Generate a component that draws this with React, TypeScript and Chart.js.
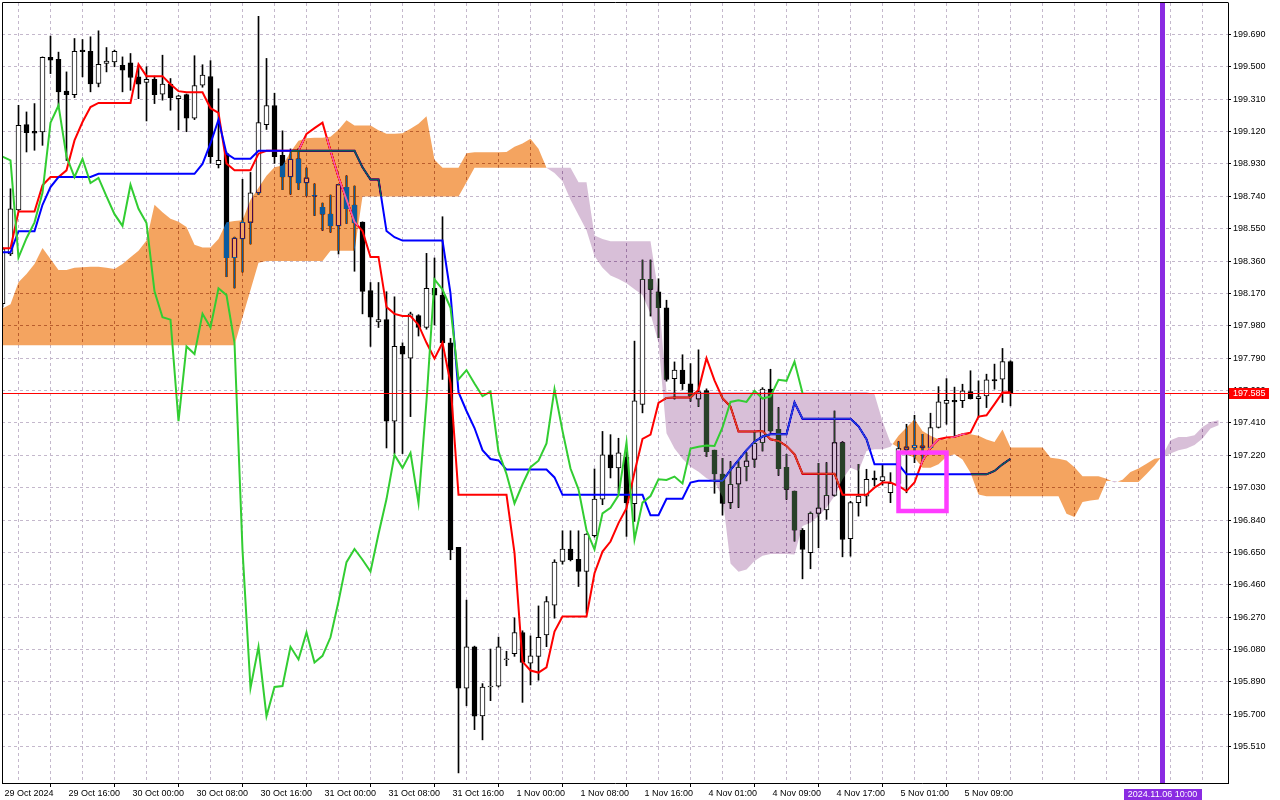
import React, { useEffect, useRef } from 'react';
import { Chart, registerables } from 'chart.js';

Chart.register(...registerables);

// ---- candles (hourly bars, index 0 = 29 Oct 08:00) ----
const opens = [
  198.11, 198.402, 198.66, 199.161, 199.121, 199.117, 199.555, 199.543, 199.357, 199.337,
  199.598, 199.59, 199.402, 199.519, 199.529, 199.509, 199.523, 199.441, 199.408, 199.427,
  199.339, 199.398, 199.313, 199.337, 199.198, 199.392, 199.443, 198.925, 198.99, 198.38,
  198.49, 198.587, 198.76, 199.16, 199.273, 198.98, 198.853, 198.96, 198.818, 198.745,
  198.675, 198.635, 198.566, 198.792, 198.688, 198.588, 198.187, 198.003, 198.016, 197.42,
  197.859, 197.79, 198.04, 197.97, 198.2, 198.16, 197.88, 196.68, 195.854, 196.096,
  195.69, 195.86, 195.865, 196.02, 196.056, 196.18, 196.0, 196.04, 196.166, 196.34,
  196.597, 196.67, 196.61, 196.538, 196.748, 196.963, 197.222, 197.146, 197.21, 196.936,
  197.518, 198.252, 198.18, 198.086, 197.67, 197.72, 197.64, 197.549, 197.6, 197.25,
  197.11, 196.94, 197.05, 197.153, 197.196, 197.294, 197.608, 197.373, 197.15, 197.01,
  196.78, 196.648, 196.879, 196.9, 196.985, 197.294, 196.73, 196.942, 196.98, 197.086,
  197.07, 197.0, 197.055, 197.255, 197.265, 197.263, 197.265, 197.383, 197.524, 197.543,
  197.54, 197.594, 197.553, 197.568, 197.665, 197.667, 197.77,
];
const highs = [
  198.44, 198.784, 199.274, 199.235, 199.284, 199.558, 199.68, 199.586, 199.47, 199.666,
  199.66, 199.676, 199.711, 199.613, 199.598, 199.558, 199.578, 199.509, 199.5, 199.445,
  199.568, 199.431, 199.333, 199.34, 199.565, 199.512, 199.536, 199.371, 199.0, 198.5,
  198.84, 198.88, 199.796, 199.549, 199.345, 199.124, 199.018, 199.02, 198.906, 198.813,
  198.7, 198.747, 198.81, 198.86, 198.8, 198.59, 198.234, 198.234, 198.18, 198.15,
  197.88, 198.06, 198.045, 198.405, 198.378, 198.62, 197.906, 196.68, 196.37, 196.1,
  195.88, 196.083, 196.153, 196.07, 196.266, 196.19, 196.16, 196.336, 196.391, 196.607,
  196.777, 196.777, 196.777, 196.76, 197.14, 197.36, 197.341, 197.32, 197.253, 197.89,
  198.366, 198.366, 198.256, 198.13, 197.768, 197.81, 197.758, 197.839, 197.61, 197.25,
  197.202, 197.183, 197.183, 197.235, 197.359, 197.617, 197.725, 197.5, 197.226, 197.01,
  196.79, 196.887, 197.173, 197.177, 197.48, 197.3, 196.95, 197.167, 197.138, 197.128,
  197.161, 197.118, 197.3, 197.402, 197.455, 197.343, 197.467, 197.623, 197.67, 197.62,
  197.637, 197.716, 197.657, 197.696, 197.755, 197.847, 197.775,
];
const lows = [
  198.09, 198.392, 198.655, 199.0, 199.01, 199.039, 199.46, 199.264, 198.95, 199.319,
  199.441, 199.353, 199.382, 199.47, 199.5, 199.353, 199.362, 199.313, 199.182, 199.284,
  199.304, 199.245, 199.13, 199.119, 199.19, 199.38, 198.933, 198.906, 198.268, 198.202,
  198.295, 198.46, 198.75, 199.132, 198.933, 198.779, 198.752, 198.78, 198.741, 198.627,
  198.54, 198.529, 198.401, 198.58, 198.3, 198.05, 197.859, 197.97, 197.263, 197.229,
  197.23, 197.447, 197.92, 197.96, 197.985, 197.665, 196.607, 195.356, 195.75, 195.61,
  195.55, 195.78, 195.86, 195.985, 196.04, 195.77, 195.872, 195.9, 196.097, 196.264,
  196.581, 196.6, 196.45, 196.293, 196.74, 196.93, 197.087, 197.0, 196.744, 196.832,
  197.469, 198.037, 197.91, 197.655, 197.55, 197.606, 197.537, 197.506, 197.212, 196.997,
  196.869, 196.908, 196.914, 197.07, 197.15, 197.245, 197.355, 197.102, 196.961, 196.716,
  196.495, 196.554, 196.677, 196.844, 196.98, 196.624, 196.628, 196.863, 196.922, 197.04,
  197.045, 196.942, 196.97, 197.0, 197.177, 197.187, 197.26, 197.38, 197.402, 197.334,
  197.5, 197.55, 197.441, 197.5, 197.608, 197.53, 197.51,
];
const closes = [
  198.431, 198.666, 199.157, 199.113, 199.111, 199.555, 199.539, 199.353, 199.337, 199.59,
  199.588, 199.4, 199.515, 199.533, 199.59, 199.48, 199.437, 199.398, 199.427, 199.337,
  199.398, 199.319, 199.33, 199.198, 199.39, 199.451, 198.973, 198.951, 198.38, 198.494,
  198.587, 198.76, 199.172, 199.273, 198.973, 198.853, 198.959, 198.818, 198.848, 198.74,
  198.635, 198.566, 198.808, 198.667, 198.583, 198.182, 198.03, 198.016, 197.42, 197.859,
  197.814, 198.05, 197.97, 198.2, 198.16, 197.88, 196.665, 195.854, 196.096, 195.689,
  195.86, 195.866, 196.096, 196.022, 196.18, 196.004, 196.043, 196.152, 196.362, 196.593,
  196.67, 196.607, 196.538, 196.758, 196.963, 197.222, 197.146, 197.234, 196.94, 197.54,
  198.252, 198.193, 198.086, 197.665, 197.72, 197.641, 197.567, 197.594, 197.241, 197.11,
  196.938, 197.05, 197.15, 197.188, 197.29, 197.608, 197.363, 197.142, 197.02, 196.78,
  196.667, 196.879, 196.912, 196.985, 197.294, 196.726, 196.942, 196.981, 197.079, 197.075,
  197.095, 197.055, 197.26, 197.27, 197.278, 197.275, 197.383, 197.533, 197.543, 197.533,
  197.598, 197.553, 197.565, 197.663, 197.657, 197.77, 197.585,
];

// ---- Ichimoku lines ----
const tenkan = [
  198.435, 198.435, 198.651, 198.651, 198.651, 198.804, 198.853, 198.853, 198.892, 199.068,
  199.176, 199.264, 199.288, 199.288, 199.288, 199.288, 199.288, 199.515, 199.445, 199.445,
  199.445, 199.398, 199.357, 199.35, 199.35, 199.35, 199.257, 199.23, 198.933, 198.893,
  198.893, 198.893, 198.99, 199.007, 199.007, 199.007, 199.007, 199.007, 199.106, 199.14,
  199.172, 199.007, 198.853, 198.72, 198.59, 198.536, 198.384, 198.384, 198.09, 198.05,
  198.037, 198.037, 197.985, 197.88, 197.788, 197.88, 197.644, 196.988, 196.988, 196.988,
  196.988, 196.988, 196.988, 196.988, 196.647, 196.009, 195.957, 195.945, 195.976, 196.186,
  196.274, 196.274, 196.274, 196.274, 196.528, 196.655, 196.714, 196.822, 196.91, 197.12,
  197.316, 197.341, 197.527, 197.557, 197.559, 197.559, 197.559, 197.604, 197.79, 197.66,
  197.555, 197.506, 197.359, 197.359, 197.359, 197.363, 197.314, 197.304, 197.275, 197.226,
  197.112, 197.112, 197.112, 197.112, 197.112, 196.989, 196.989, 196.989, 196.989, 197.03,
  197.06, 197.06, 197.04, 197.01, 197.06, 197.187, 197.265, 197.314, 197.324, 197.328,
  197.343, 197.353, 197.447, 197.455, 197.52, 197.588, 197.59,
];
const kijun = [
  198.411, 198.411, 198.535, 198.535, 198.535, 198.69, 198.794, 198.853, 198.853, 198.853,
  198.853, 198.853, 198.872, 198.872, 198.872, 198.872, 198.872, 198.872, 198.872, 198.872,
  198.872, 198.872, 198.872, 198.872, 198.872, 198.93, 199.05, 199.19, 198.99, 198.96,
  198.96, 198.96, 199.007, 199.007, 199.007, 199.007, 199.007, 199.007, 199.007, 199.007,
  199.007, 199.007, 199.007, 199.007, 199.007, 198.91, 198.838, 198.838, 198.536, 198.5,
  198.48, 198.48, 198.48, 198.48, 198.48, 198.48, 198.17, 197.59, 197.48, 197.38,
  197.25, 197.198, 197.19, 197.136, 197.136, 197.136, 197.136, 197.136, 197.136, 197.09,
  196.988, 196.988, 196.988, 196.988, 196.988, 196.988, 196.988, 196.988, 196.988, 196.988,
  196.988, 196.868, 196.868, 196.965, 196.965, 196.965, 197.06, 197.07, 197.07, 197.07,
  197.07, 197.134, 197.192, 197.25, 197.3, 197.33, 197.343, 197.343, 197.343, 197.53,
  197.435, 197.435, 197.435, 197.435, 197.435, 197.435, 197.435, 197.39, 197.314, 197.167,
  197.167, 197.167, 197.167, 197.108, 197.108, 197.108, 197.108, 197.108, 197.108, 197.108,
  197.108, 197.108, 197.108, 197.108, 197.128, 197.167, 197.2,
];
const senkouA = [
  198.082, 198.107, 198.235, 198.284, 198.343, 198.437, 198.372, 198.308, 198.308, 198.32,
  198.323, 198.327, 198.327, 198.32, 198.313, 198.343, 198.382, 198.421, 198.48, 198.69,
  198.647, 198.608, 198.59, 198.56, 198.455, 198.44, 198.44, 198.49, 198.587, 198.595,
  198.6, 198.72, 198.79, 198.86, 198.91, 198.92, 199.0, 199.066, 199.08, 199.084,
  199.084, 199.09, 199.13, 199.186, 199.156, 199.156, 199.156, 199.127, 199.107, 199.107,
  199.11, 199.136, 199.166, 199.209, 198.954, 198.907, 198.907, 198.907, 198.993, 198.999,
  198.999, 198.999, 198.999, 199.0, 199.03, 199.05, 199.078, 199.019, 198.907, 198.877,
  198.828, 198.72, 198.63, 198.54, 198.39, 198.32, 198.275, 198.255, 198.23, 198.195,
  198.16, 198.05, 197.88, 197.35, 197.26, 197.2, 197.153, 197.124, 197.085, 197.065,
  196.977, 196.585, 196.536, 196.55, 196.6, 196.63, 196.64, 196.64, 196.64, 196.638,
  196.805, 196.824, 196.863, 196.912, 196.981, 197.079, 197.147, 197.128, 197.245, 197.255,
  197.255, 197.27, 197.334, 197.383, 197.432, 197.363, 197.334, 197.314, 197.314, 197.334,
  197.35, 197.343, 197.334, 197.312, 197.298, 197.371, 197.265, 197.265, 197.265, 197.265,
  197.265, 197.206, 197.2, 197.19, 197.15, 197.097, 197.097, 197.097, 197.083, 197.06,
  197.077, 197.122, 197.142, 197.17, 197.2, 197.206, 197.23, 197.25, 197.26, 197.28,
  197.318, 197.377, 197.396,
];
const senkouB = [
  197.866, 197.866, 197.866, 197.866, 197.866, 197.866, 197.866, 197.866, 197.866, 197.866,
  197.866, 197.866, 197.866, 197.866, 197.866, 197.866, 197.866, 197.866, 197.866, 197.866,
  197.866, 197.866, 197.866, 197.866, 197.866, 197.866, 197.866, 197.866, 197.866, 197.866,
  198.03, 198.19, 198.35, 198.36, 198.36, 198.36, 198.36, 198.36, 198.36, 198.36,
  198.36, 198.42, 198.42, 198.42, 198.42, 198.739, 198.739, 198.739, 198.739, 198.739,
  198.739, 198.739, 198.739, 198.739, 198.739, 198.739, 198.739, 198.739, 198.823, 198.907,
  198.907, 198.907, 198.907, 198.907, 198.907, 198.907, 198.907, 198.907, 198.907, 198.907,
  198.907, 198.907, 198.823, 198.823, 198.51, 198.49, 198.476, 198.476, 198.476, 198.476,
  198.476, 198.476, 198.17, 197.592, 197.592, 197.592, 197.592, 197.592, 197.592, 197.592,
  197.592, 197.592, 197.592, 197.592, 197.592, 197.592, 197.592, 197.592, 197.592, 197.592,
  197.592, 197.592, 197.592, 197.592, 197.592, 197.592, 197.592, 197.592, 197.592, 197.578,
  197.42, 197.294, 197.265, 197.226, 197.206, 197.147, 197.147, 197.167, 197.212, 197.226,
  197.196, 197.118, 196.99, 196.979, 196.979, 196.979, 196.979, 196.979, 196.979, 196.979,
  196.979, 196.979, 196.979, 196.877, 196.858, 196.946, 196.955, 196.96, 197.069, 197.069,
  197.063, 197.063, 197.063, 197.11, 197.16, 197.22, 197.308, 197.328, 197.328, 197.337,
  197.386, 197.416, 197.426,
];
const CHIKOU_SHIFT = 26;

// ---- axes ----
const xLabels = [
  '29 Oct 2024', '29 Oct 16:00', '30 Oct 00:00', '30 Oct 08:00', '30 Oct 16:00',
  '31 Oct 00:00', '31 Oct 08:00', '31 Oct 16:00', '1 Nov 00:00', '1 Nov 08:00',
  '1 Nov 16:00', '4 Nov 01:00', '4 Nov 09:00', '4 Nov 17:00', '5 Nov 01:00', '5 Nov 09:00',
];
const LABEL_EVERY = 8;
const GRID_EVERY = 4;
const yTicks = [
  199.69, 199.5, 199.31, 199.12, 198.93, 198.74, 198.55, 198.36, 198.17, 197.98, 197.79, 197.6,
  197.41, 197.22, 197.03, 196.84, 196.65, 196.46, 196.27, 196.08, 195.89, 195.7, 195.51,
];
const LAST_PRICE = 197.585;
const MARKER_INDEX = 145;
const MARKER_LABEL = '2024.11.06 10:00';
const BOX = { from: 112, to: 118, low: 196.893, high: 197.236 };

const X_MIN = -0.0625;
const X_MAX = 153.1875;
const Y_MAX = 199.8743;
const Y_MIN = 195.2968;

const GRID = '#c4b8cc';
const FONT_FAMILY = "'Liberation Sans', Arial, sans-serif";

export default function App() {
  const ref = useRef<HTMLCanvasElement>(null);

  useEffect(() => {
    document.body.style.margin = '0';
    const canvas = ref.current;
    if (!canvas) return;

    const idx = closes.map((_, k) => k);
    const wickData = idx.map((k) => ({ x: k, y: [lows[k], highs[k]] }));
    const bodyData = idx.map((k) => ({ x: k, y: [opens[k], closes[k]] }));
    const bodyColors = idx.map((k) => (closes[k] >= opens[k] ? '#ffffff' : '#000000'));
    const chikou = closes.slice(CHIKOU_SHIFT).map((c, k) => ({ x: k, y: c }));
    const gridTicks: number[] = [];
    for (let k = 0; k <= X_MAX; k += GRID_EVERY) gridTicks.push(k);
    const hasLabel = (k: number) => k % LABEL_EVERY === 0 && k / LABEL_EVERY < xLabels.length;

    const KIJUN_DATASET = 3;

    const bgPlugin = {
      id: 'bg',
      beforeDraw(chart: any) {
        const c = chart.ctx;
        c.save();
        c.fillStyle = '#ffffff';
        c.fillRect(0, 0, chart.width, chart.height);
        c.restore();
      },
    };

    const cloudPlugin = {
      id: 'cloud',
      afterDatasetDraw(chart: any, args: any) {
        if (args.index !== KIJUN_DATASET) return;
        const c = chart.ctx;
        const a = chart.chartArea;
        const xs = chart.scales.x;
        const ys = chart.scales.y;
        const Y = (v: number) => ys.getPixelForValue(v);
        const up = new Path2D();
        const dn = new Path2D();
        const poly = (p: Path2D, pts: number[][]) => {
          p.moveTo(pts[0][0], pts[0][1]);
          for (let i = 1; i < pts.length; i++) p.lineTo(pts[i][0], pts[i][1]);
          p.closePath();
        };
        for (let i = 0; i < senkouA.length - 1; i++) {
          const a0 = senkouA[i], b0 = senkouB[i], a1 = senkouA[i + 1], b1 = senkouB[i + 1];
          const d0 = a0 - b0, d1 = a1 - b1;
          const x0 = xs.getPixelForValue(i), x1 = xs.getPixelForValue(i + 1);
          if ((d0 >= 0 && d1 >= 0) || (d0 <= 0 && d1 <= 0)) {
            poly(d0 + d1 >= 0 ? up : dn, [[x0, Y(a0)], [x1, Y(a1)], [x1, Y(b1)], [x0, Y(b0)]]);
          } else {
            const t = d0 / (d0 - d1);
            const xm = x0 + t * (x1 - x0);
            const vm = a0 + t * (a1 - a0);
            poly(d0 > 0 ? up : dn, [[x0, Y(a0)], [xm, Y(vm)], [x0, Y(b0)]]);
            poly(d1 > 0 ? up : dn, [[xm, Y(vm)], [x1, Y(a1)], [x1, Y(b1)]]);
          }
        }
        c.save();
        c.beginPath();
        c.rect(a.left, a.top, a.right - a.left, a.bottom - a.top);
        c.clip();
        c.globalCompositeOperation = 'difference';
        c.fillStyle = '#0b5b9f';
        c.fill(up);
        c.fillStyle = '#274027';
        c.fill(dn);
        c.restore();
      },
    };

    const overlayPlugin = {
      id: 'overlay',
      afterDatasetsDraw(chart: any) {
        const c = chart.ctx;
        const a = chart.chartArea;
        const xs = chart.scales.x;
        const ys = chart.scales.y;
        c.save();
        c.beginPath();
        c.rect(a.left, a.top, a.right - a.left, a.bottom - a.top);
        c.clip();
        // last price line
        const py = Math.round(ys.getPixelForValue(LAST_PRICE)) + 0.5;
        c.strokeStyle = '#ff0000';
        c.lineWidth = 1;
        c.beginPath();
        c.moveTo(a.left, py);
        c.lineTo(a.right, py);
        c.stroke();
        // rectangle object
        const bx0 = xs.getPixelForValue(BOX.from);
        const bx1 = xs.getPixelForValue(BOX.to);
        const by0 = ys.getPixelForValue(BOX.high);
        const by1 = ys.getPixelForValue(BOX.low);
        c.strokeStyle = '#ff3cff';
        c.lineWidth = 4.5;
        c.strokeRect(bx0, by0, bx1 - bx0, by1 - by0);
        // vertical marker
        const mx = xs.getPixelForValue(MARKER_INDEX);
        c.fillStyle = '#8a2be2';
        c.fillRect(mx - 2.5, a.top, 5, a.bottom - a.top);
        c.restore();
      },
      afterDraw(chart: any) {
        const c = chart.ctx;
        const a = chart.chartArea;
        const xs = chart.scales.x;
        const ys = chart.scales.y;
        c.save();
        c.strokeStyle = '#000';
        c.lineWidth = 1;
        c.beginPath();
        c.moveTo(a.left + 0.5, a.bottom + 0.5);
        c.lineTo(a.left + 0.5, a.top - 0.5);
        c.lineTo(a.right + 0.5, a.top - 0.5);
        c.stroke();
        // price label
        const py = ys.getPixelForValue(LAST_PRICE);
        c.fillStyle = '#ff0000';
        c.fillRect(a.right + 1, Math.round(py) - 5, 40, 11);
        c.fillStyle = '#ffffff';
        c.font = `9px ${FONT_FAMILY}`;
        c.textBaseline = 'middle';
        c.textAlign = 'left';
        c.fillText(LAST_PRICE.toFixed(3), a.right + 5, Math.round(py) + 0.5);
        // marker time label
        const mx = xs.getPixelForValue(MARKER_INDEX);
        c.fillStyle = '#8a2be2';
        c.fillRect(Math.round(mx) - 39, a.bottom + 6, 78, 14);
        c.fillStyle = '#ffffff';
        c.textAlign = 'center';
        c.fillText(MARKER_LABEL, mx, a.bottom + 12);
        c.restore();
      },
    };

    const chart = new Chart(canvas, {
      type: 'line',
      data: {
        datasets: [
          {
            type: 'bar',
            data: wickData as any,
            backgroundColor: '#000000',
            borderWidth: 0,
            barThickness: 1,
            grouped: false,
            order: 60,
          } as any,
          {
            type: 'bar',
            data: bodyData as any,
            backgroundColor: bodyColors,
            borderColor: '#000000',
            borderWidth: 1,
            borderSkipped: false,
            barThickness: 5,
            minBarLength: 1,
            grouped: false,
            order: 50,
          } as any,
          {
            type: 'line',
            data: tenkan.map((v, k) => ({ x: k, y: v })),
            borderColor: '#ff0000',
            borderWidth: 2,
            pointRadius: 0,
            tension: 0,
            fill: false,
            order: 40,
          },
          {
            type: 'line',
            data: kijun.map((v, k) => ({ x: k, y: v })),
            borderColor: '#0000ff',
            borderWidth: 2,
            pointRadius: 0,
            tension: 0,
            fill: false,
            order: 30,
          },
          {
            type: 'line',
            data: chikou,
            borderColor: '#32cd32',
            borderWidth: 2,
            pointRadius: 0,
            tension: 0,
            fill: false,
            order: 20,
          },
        ],
      },
      options: {
        responsive: false,
        maintainAspectRatio: false,
        animation: false,
        devicePixelRatio: 1,
        events: [],
        layout: { padding: { left: 2, top: 3, right: 0, bottom: 0 } },
        plugins: { legend: { display: false }, tooltip: { enabled: false }, title: { display: false } },
        scales: {
          x: {
            type: 'linear',
            min: X_MIN,
            max: X_MAX,
            offset: false,
            afterBuildTicks: (scale: any) => {
              scale.ticks = gridTicks.map((v) => ({ value: v }));
            },
            afterFit: (scale: any) => {
              scale.height = 17;
              scale.paddingLeft = 0;
              scale.paddingRight = 0;
            },
            ticks: {
              autoSkip: false,
              maxRotation: 0,
              minRotation: 0,
              align: 'start',
              labelOffset: 2,
              padding: 1,
              color: '#000000',
              font: { family: FONT_FAMILY, size: 9 },
              callback: (value: any) => {
                const k = Number(value);
                return hasLabel(k) ? xLabels[k / LABEL_EVERY] : '';
              },
            },
            grid: {
              color: GRID,
              lineWidth: 1,
              tickLength: 4,
              tickColor: (ctx: any) => (ctx.tick && hasLabel(ctx.tick.value) ? '#000000' : 'rgba(0,0,0,0)'),
            },
            border: { display: true, color: '#000000', width: 1, dash: [3, 3] },
          } as any,
          y: {
            type: 'linear',
            position: 'right',
            min: Y_MIN,
            max: Y_MAX,
            afterBuildTicks: (scale: any) => {
              scale.ticks = yTicks.map((v) => ({ value: v }));
            },
            afterFit: (scale: any) => {
              scale.width = 52;
              scale.paddingTop = 0;
              scale.paddingBottom = 0;
            },
            ticks: {
              autoSkip: false,
              padding: 2,
              color: '#000000',
              font: { family: FONT_FAMILY, size: 9 },
              callback: (value: any) => Number(value).toFixed(3),
            },
            grid: { color: GRID, lineWidth: 1, tickLength: 3, tickColor: '#000000' },
            border: { display: true, color: '#000000', width: 1, dash: [3, 3] },
          } as any,
        },
      },
      plugins: [bgPlugin, cloudPlugin, overlayPlugin],
    } as any);

    return () => chart.destroy();
  }, []);

  return (
    <div style={{ width: 1280, height: 800 }}>
      <canvas ref={ref} width={1280} height={800} style={{ display: 'block', width: '1280px', height: '800px' }} />
    </div>
  );
}
